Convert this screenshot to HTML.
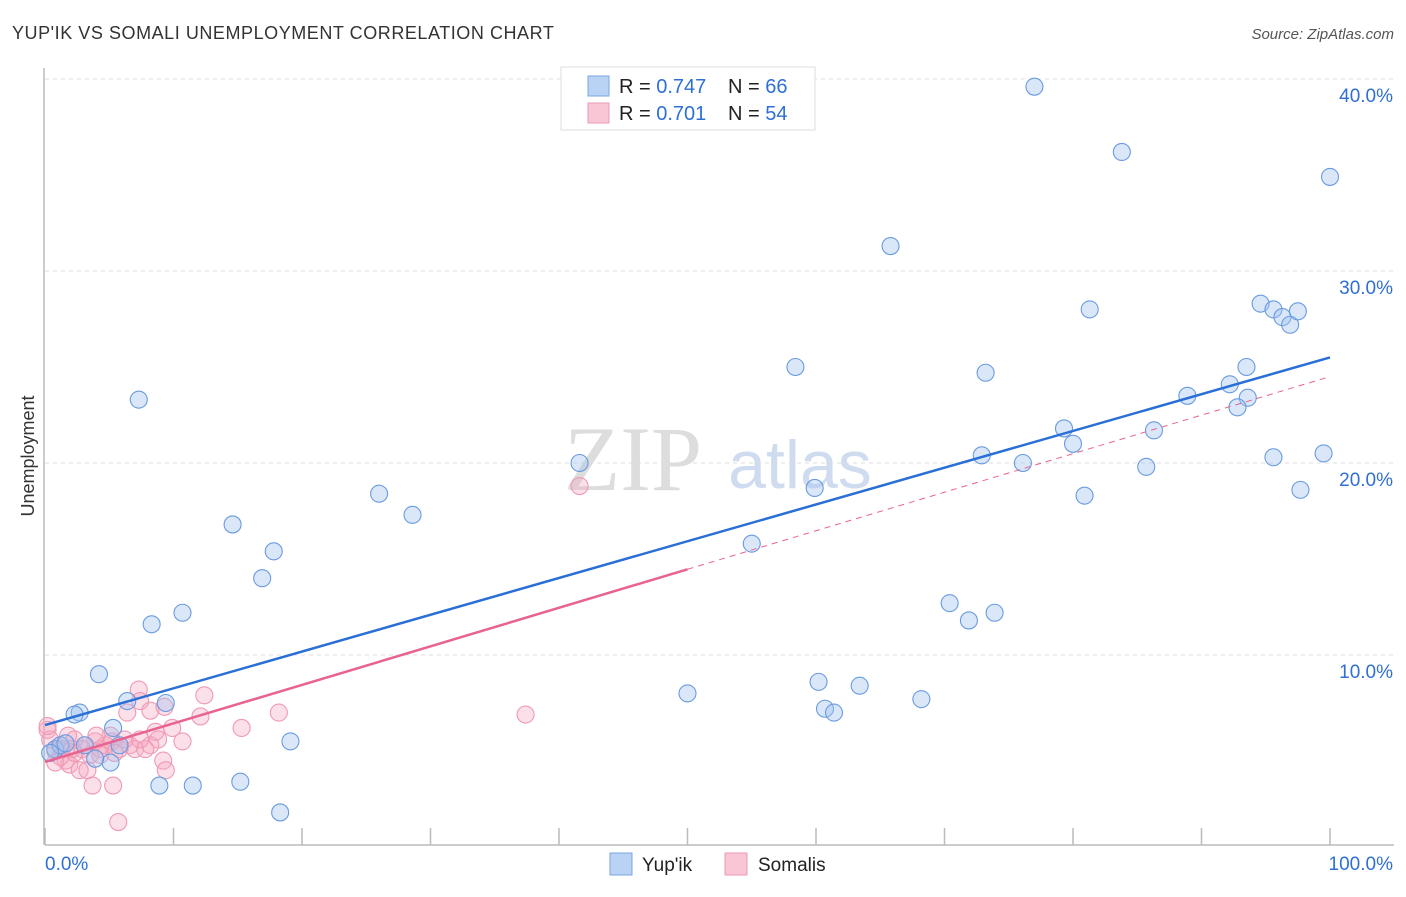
<!DOCTYPE html>
<html><head><meta charset="utf-8"><style>
body{margin:0;background:#fff;font-family:"Liberation Sans",sans-serif;}
</style></head><body>
<svg width="1406" height="892" xmlns="http://www.w3.org/2000/svg" id="svg">
<text x="12" y="39" font-size="18" fill="#333" letter-spacing="0.55">YUP'IK VS SOMALI UNEMPLOYMENT CORRELATION CHART</text>
<text x="1394" y="39" font-size="15" fill="#555" font-style="italic" text-anchor="end">Source: ZipAtlas.com</text>
<text transform="translate(34,456) rotate(-90)" font-size="18" fill="#333" text-anchor="middle">Unemployment</text>
<g><text x="633" y="490" font-size="92" fill="#ddd" font-family="Liberation Serif,serif" text-anchor="middle">ZIP</text><text x="800" y="488" font-size="68" fill="#cfdcf0" text-anchor="middle">atlas</text></g>
<g id="grid"></g><g id="marks"></g>
<g>
<rect x="561" y="67" width="254" height="63" fill="#fff" stroke="#ddd"/>
<rect x="588" y="76" width="21" height="20" fill="#b9d3f5" stroke="#7aa6e0"/>
<text x="619" y="93" font-size="20" fill="#222">R = <tspan fill="#2f6fd6">0.747</tspan></text>
<text x="728" y="93" font-size="20" fill="#222">N = <tspan fill="#2f6fd6">66</tspan></text>
<rect x="588" y="103" width="21" height="20" fill="#f9c6d6" stroke="#eb9ab5"/>
<text x="619" y="120" font-size="20" fill="#222">R = <tspan fill="#2f6fd6">0.701</tspan></text>
<text x="728" y="120" font-size="20" fill="#222">N = <tspan fill="#2f6fd6">54</tspan></text>
</g>
<g>
<rect x="610" y="853" width="22" height="22" fill="#b9d3f5" stroke="#7aa6e0"/>
<text x="642" y="871" font-size="19" fill="#222">Yup'ik</text>
<rect x="725" y="853" width="22" height="22" fill="#f9c6d6" stroke="#eb9ab5"/>
<text x="758" y="871" font-size="19" fill="#222">Somalis</text>
</g>
</svg>
<script>
const yTicks=[10,20,30,40];
const xTickLabels=["0.0%","100.0%"];
const yupikX=[77.0,83.8,100,65.8,81.3,94.6,95.6,96.3,96.9,97.5,58.4,73.2,93.5,88.9,92.2,93.6,92.8,79.3,86.3,80.0,72.9,76.1,85.7,95.6,99.5,80.9,97.7,59.9,41.6,55.0,70.4,71.9,73.9,50.0,60.2,63.4,60.7,61.4,68.2,7.3,26.0,28.6,14.6,17.8,16.9,8.3,10.7,4.2,6.4,9.4,2.7,2.3,5.3,19.1,5.1,3.9,8.9,11.5,15.2,18.3,0.8,1.2,1.6,3.1,5.8,0.4];
const yupikY=[39.6,36.2,34.9,31.3,28.0,28.3,28.0,27.6,27.2,27.9,25.0,24.7,25.0,23.5,24.1,23.4,22.9,21.8,21.7,21.0,20.4,20.0,19.8,20.3,20.5,18.3,18.6,18.7,20.0,15.8,12.7,11.8,12.2,8.0,8.6,8.4,7.2,7.0,7.7,23.3,18.4,17.3,16.8,15.4,14.0,11.6,12.2,9.0,7.6,7.5,7.0,6.9,6.2,5.5,4.4,4.6,3.2,3.2,3.4,1.8,5.1,5.3,5.4,5.3,5.3,4.9];
const somaliX=[41.6,37.4,7.3,12.4,7.4,18.2,12.1,6.4,8.2,9.3,15.3,9.9,8.6,8.8,8.2,10.7,6.6,5.1,5.2,3.9,3.1,2.3,1.8,1.2,0.8,0.4,0.2,1.6,1.9,2.7,3.3,4.3,4.7,5.8,7.0,7.8,9.2,9.4,3.7,5.3,5.7,1.2,0.8,2.3,3.5,4.3,0.2,1.3,2.1,2.9,5.4,6.2,7.4,4.0];
const somaliY=[18.8,6.9,8.2,7.9,7.6,7.0,6.8,7.0,7.1,7.3,6.2,6.2,6.0,5.6,5.3,5.5,5.3,5.8,5.5,5.5,5.3,5.6,5.8,5.3,5.0,5.6,6.1,4.5,4.3,4.0,4.0,5.1,5.3,5.1,5.1,5.1,4.5,4.0,3.2,3.2,1.3,4.7,4.4,4.9,4.8,4.8,6.3,5.1,5.1,5.1,4.9,5.6,5.6,5.8];
const yupikLine=[6.35,25.5];
const somaliLine=[4.43,24.5];
const somaliSolidEnd=50;
const NS="http://www.w3.org/2000/svg";
const X=v=>45+v*12.85, Y=v=>847-v*19.2;
const svg=document.getElementById('svg'),grid=document.getElementById('grid'),marks=document.getElementById('marks');
function mk(t,a,p){const e=document.createElementNS(NS,t);for(const k in a)e.setAttribute(k,a[k]);(p||marks).appendChild(e);return e;}
let ax=mk('line',{x1:45,y1:845,x2:1394,y2:845,stroke:'#bbb','stroke-width':1.5},grid);


let ay=mk('line',{x1:44,y1:68,x2:44,y2:845,stroke:'#bbb','stroke-width':1.5},grid);


for(let i=0;i<=10;i++){const t=mk('line',{x1:X(i*10),y1:828,x2:X(i*10),y2:845,stroke:'#bbb','stroke-width':1.5},grid);

}
yTicks.forEach(v=>{const g=mk('line',{x1:45,y1:Y(v),x2:1394,y2:Y(v),stroke:'#ddd','stroke-dasharray':'4,4'},grid);


const t=mk('text',{x:1393,y:Y(v)+23,'font-size':19,fill:'#2f6fd6','text-anchor':'end'},grid);t.textContent=v.toFixed(1)+'%';

});
xTickLabels.forEach((s,i)=>{const t=mk('text',{x:i?1393:45,y:870,'font-size':19,fill:'#2f6fd6','text-anchor':i?'end':'start'},grid);t.textContent=s;

});
somaliX.forEach((x,i)=>{const c=mk('circle',{cx:X(x),cy:Y(somaliY[i]),r:8.5,fill:'rgba(245,165,192,0.35)',stroke:'#ee9ab6','stroke-width':1.1});

});
yupikX.forEach((x,i)=>{const c=mk('circle',{cx:X(x),cy:Y(yupikY[i]),r:8.5,fill:'rgba(160,196,240,0.4)',stroke:'#6a9be0','stroke-width':1.1});

});
const sm=somaliLine[0]+(somaliLine[1]-somaliLine[0])*somaliSolidEnd/100;
let l1=mk('line',{x1:X(0),y1:Y(somaliLine[0]),x2:X(somaliSolidEnd),y2:Y(sm),stroke:'#e8638f','stroke-width':2.5});


let l2=mk('line',{x1:X(somaliSolidEnd),y1:Y(sm),x2:X(100),y2:Y(somaliLine[1]),stroke:'#e8638f','stroke-width':1,'stroke-dasharray':'6,5'});


let l3=mk('line',{x1:X(0),y1:Y(yupikLine[0]),x2:X(100),y2:Y(yupikLine[1]),stroke:'#2a6fd6','stroke-width':2.5});


</script>
</body></html>
